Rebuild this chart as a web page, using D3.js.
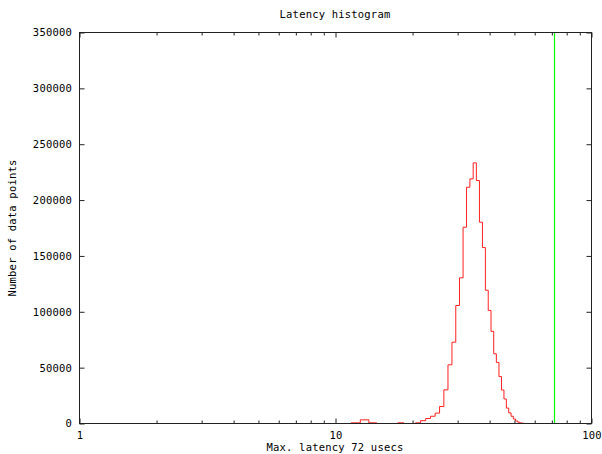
<!DOCTYPE html>
<html>
<head>
<meta charset="utf-8">
<script src="https://cdn.jsdelivr.net/npm/d3@7"></script>
<style>
	body { margin: 0; background: #fff; }
	svg { display: block; }
	text { font-family: "DejaVu Sans Mono", monospace; font-size: 10.5px; letter-spacing: 0.2px; fill: #000; }
	.axis path { display: none; }
	.axis line { stroke: #222; }
	.maxline { stroke: #00ff00; stroke-width: 1.2px; }
</style>
</head>
<body>
<svg id="chart"></svg>
<script>
// histogram bins (latency in usecs) and counts
var latency = [11, 12, 13, 14, 15, 16, 17, 18, 19, 20, 21, 22, 23, 24, 25, 26, 27, 28, 29, 30,
	31, 32, 33, 34, 35, 36, 37, 38, 39, 40, 41, 42, 43, 44, 45, 46, 47, 48, 49, 50,
	51, 52, 53, 54];
var counts = [0, 600, 3300, 600, 0, 0, 0, 600, 0, 0, 600, 2500, 4500, 6500, 9300, 15200, 30100, 52500, 72800, 105600,
	130400, 175700, 211500, 219000, 233300, 217500, 180200, 157500, 119300, 101200, 82500, 62400, 54700, 42000, 30000, 22000, 13800, 9500, 6500, 4000,
	2200, 1200, 500, 200];
var maxLatency = 72;

var xMajor = [1, 10, 100];
var xMinor = [2, 3, 4, 5, 6, 7, 8, 9, 20, 30, 40, 50, 60, 70, 80, 90];
var yTicks = [0, 50000, 100000, 150000, 200000, 250000, 300000, 350000];

var W = 602, H = 454;
var margin = {top: 32.5, right: 10.5, bottom: 30.5, left: 79.5};

var svg = d3.select("#chart").attr("width", W).attr("height", H);

var x = d3.scaleLog()
	.domain([1, 100])
	.range([margin.left, W - margin.right]);

var y = d3.scaleLinear()
	.domain([0, 350000])
	.range([H - margin.bottom, margin.top]);

// Step outline: each bin spans n-0.5 .. n+0.5
var steps = latency.map(function(d, i) { return {x: d - 0.5, v: counts[i]}; });
steps.push({x: latency[latency.length - 1] + 0.5, v: counts[counts.length - 1]});

var stepLine = d3.line()
	.curve(d3.curveStepAfter)
	.x(function(d) { return x(d.x); })
	.y(function(d) { return y(d.v); });

svg.append("path")
	.datum(steps)
	.attr("fill", "none")
	.attr("stroke", "#ff2020")
	.attr("stroke-width", 1)
	.attr("d", stepLine);

// ticks (gnuplot style: inward, mirrored)
svg.append("g")
	.attr("class", "axis")
	.attr("transform", "translate(0," + y(0) + ")")
	.call(d3.axisBottom(x).tickValues(xMajor).tickFormat(d3.format("d")).tickSizeInner(-5).tickSizeOuter(0).tickPadding(8));

svg.append("g")
	.attr("class", "axis")
	.attr("transform", "translate(0," + y(0) + ")")
	.call(d3.axisBottom(x).tickValues(xMinor).tickFormat("").tickSizeInner(-3).tickSizeOuter(0));

svg.append("g")
	.attr("class", "axis")
	.attr("transform", "translate(0," + y(350000) + ")")
	.call(d3.axisTop(x).tickValues(xMajor).tickFormat("").tickSizeInner(-5).tickSizeOuter(0));

svg.append("g")
	.attr("class", "axis")
	.attr("transform", "translate(0," + y(350000) + ")")
	.call(d3.axisTop(x).tickValues(xMinor).tickFormat("").tickSizeInner(-3).tickSizeOuter(0));

svg.append("g")
	.attr("class", "axis")
	.attr("transform", "translate(" + x(1) + ",0)")
	.call(d3.axisLeft(y).tickValues(yTicks).tickFormat(d3.format("d")).tickSizeInner(-5).tickSizeOuter(0).tickPadding(7.5));

svg.append("g")
	.attr("class", "axis")
	.attr("transform", "translate(" + x(100) + ",0)")
	.call(d3.axisRight(y).tickValues(yTicks).tickFormat("").tickSizeInner(-5).tickSizeOuter(0));

svg.selectAll(".axis").attr("font-size", null).attr("font-family", null);

// max latency marker
svg.append("line")
	.attr("class", "maxline")
	.attr("x1", Math.round(x(maxLatency)) - 0.5)
	.attr("x2", Math.round(x(maxLatency)) - 0.5)
	.attr("y1", y(0))
	.attr("y2", y(350000));

// frame
svg.append("rect")
	.attr("x", x(1))
	.attr("y", y(350000))
	.attr("width", x(100) - x(1))
	.attr("height", y(0) - y(350000))
	.attr("fill", "none")
	.attr("stroke", "#222")
	.attr("stroke-width", 1);

// titles
svg.append("text")
	.attr("x", 335)
	.attr("y", 18)
	.attr("text-anchor", "middle")
	.text("Latency histogram");

svg.append("text")
	.attr("x", 335)
	.attr("y", 451)
	.attr("text-anchor", "middle")
	.text("Max. latency " + maxLatency + " usecs");

svg.append("text")
	.attr("transform", "translate(16," + ((y(0) + y(350000)) / 2) + ") rotate(-90)")
	.attr("text-anchor", "middle")
	.text("Number of data points");
</script>
</body>
</html>
